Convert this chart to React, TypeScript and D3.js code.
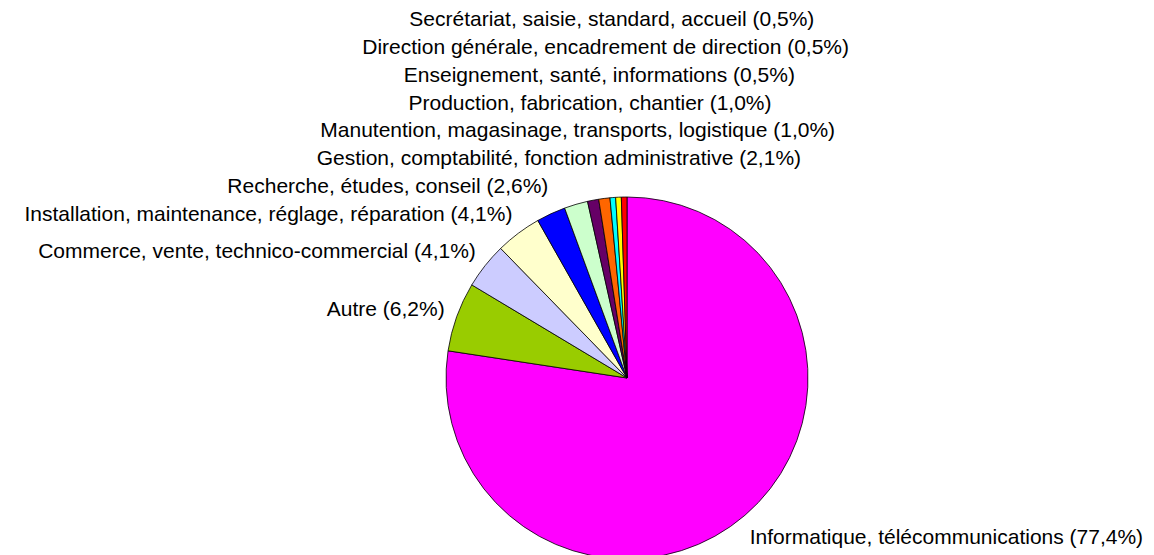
import React from 'react';
import * as d3 from 'd3';

// categories, clockwise from 12 o'clock
const categories = [
  'Informatique, télécommunications',
  'Autre',
  'Commerce, vente, technico-commercial',
  'Installation, maintenance, réglage, réparation',
  'Recherche, études, conseil',
  'Gestion, comptabilité, fonction administrative',
  'Manutention, magasinage, transports, logistique',
  'Production, fabrication, chantier',
  'Enseignement, santé, informations',
  'Direction générale, encadrement de direction',
  'Secrétariat, saisie, standard, accueil'
];
const shares = [77.4, 6.2, 4.1, 4.1, 2.6, 2.1, 1.0, 1.0, 0.5, 0.5, 0.5];
const colors = [
  '#FF00FF', '#99CC00', '#CCCCFF', '#FFFFCC', '#0000FF', '#CCFFCC',
  '#660066', '#FF6600', '#00FFFF', '#FFFF00', '#FF0000'
];

const W = 1154;
const H = 555;

export default function App() {
  const cx = 627;
  const cy = 378;
  const r = 181;
  const lineGap = 27.8;

  const data = categories.map((c, i) => ({ name: c, value: shares[i], color: colors[i] }));
  const pie = d3.pie<any>().sort(null).value((d: any) => d.value);
  const arcs = pie(data);
  const arc = d3.arc<any>().innerRadius(0).outerRadius(r);

  // label positions: just outside the rim, then pushed up so they don't overlap
  const labels = arcs.map((a: any) => {
    const mid = (a.startAngle + a.endAngle) / 2;
    const s = Math.sin(mid);
    const c = Math.cos(mid);
    const px = cx + r * 1.1 * s;
    const py = cy - r * 1.1 * c;
    let anchor = 'middle';
    let x = px - 12;
    if (s < -0.3) { anchor = 'end'; x = px + 5; }
    else if (s > 0.3) { anchor = 'start'; x = px - 7; }
    return {
      text: a.data.name + ' (' + a.data.value.toFixed(1).replace('.', ',') + '%)',
      x, y: py - c * 8.5, anchor
    };
  });
  for (let i = 2; i < labels.length; i++) {
    labels[i].y = Math.min(labels[i].y, labels[i - 1].y - lineGap);
  }

  return (
    <svg width={W} height={H} style={{ position: 'absolute', left: 0, top: 0, background: '#fff' }}>
      <g transform={'translate(' + cx + ',' + cy + ')'}>
        {arcs.map((a: any, i: number) => (
          <path key={i} d={arc(a) as string} fill={a.data.color} stroke="#000" strokeWidth={0.8} />
        ))}
      </g>
      <g fontFamily="'Liberation Sans', Arial, sans-serif" fontSize={21} fill="#000">
        {labels.map((l, i) => (
          <text key={i} x={l.x} y={l.y} dy="0.42em" textAnchor={l.anchor}>{l.text}</text>
        ))}
      </g>
    </svg>
  );
}
